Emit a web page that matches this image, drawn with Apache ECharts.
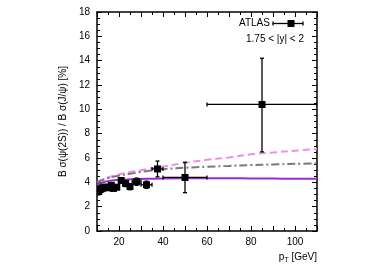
<!DOCTYPE html>
<html><head><meta charset="utf-8">
<script src="https://cdn.jsdelivr.net/npm/echarts@6/dist/echarts.min.js"></script>
<style>html,body{margin:0;padding:0;background:#fff}#c{width:389px;height:273px}</style>
</head><body><div id="c"></div>
<script>
// Data
const pT     = [10.0,10.75,11.25,11.75,12.25,12.75,13.5,14.5,15.5,16.5,17.5,19,21,23,25,28,32.5,37.5,50,85];
const pTlo   = [9.5,10.5,11,11.5,12,12.5,13,14,15,16,17,18,20,22,24,26,30,35,40,60];
const pThi   = [10.5,11,11.5,12,12.5,13,14,15,16,17,18,20,22,24,26,30,35,40,60,110];
const ratio  = [3.2,3.25,3.4,3.45,3.5,3.55,3.6,3.6,3.55,3.75,3.5,3.6,4.15,3.9,3.65,4.05,3.8,5.1,4.4,10.4];
const errDn  = [0.15,0.15,0.15,0.15,0.15,0.15,0.15,0.15,0.15,0.2,0.2,0.2,0.2,0.25,0.25,0.3,0.3,0.65,1.25,3.9];
const errUp  = [0.15,0.15,0.15,0.15,0.15,0.15,0.15,0.15,0.15,0.2,0.2,0.2,0.2,0.25,0.25,0.3,0.3,0.65,1.25,3.8];

const thPt     = [10,12,15,20,25,30,40,50,60,70,80,90,100,110];
const thSolid  = [3.8,3.95,4.1,4.2,4.25,4.28,4.32,4.33,4.33,4.33,4.32,4.31,4.3,4.3];
const thDashDot= [4.0,4.15,4.35,4.55,4.7,4.85,5.08,5.2,5.28,5.35,5.42,5.47,5.52,5.55];
const thDashed = [4.0,4.2,4.4,4.65,4.85,5.0,5.3,5.6,5.85,6.05,6.3,6.45,6.6,6.75];

const xTicks = [20,40,60,80,100];

const font = 'Liberation Sans, Arial, sans-serif';
const chart = echarts.init(document.getElementById('c'), null, {renderer:'canvas'});

function pair(xs, ys){ return xs.map((x,i)=>[x, ys[i]]); }

const axisCommon = {
  axisLine:{show:true, onZero:false, lineStyle:{color:'#000', width:1.5}},
  axisTick:{show:true, inside:true, length:5, lineStyle:{color:'#000', width:1}},
  minorTick:{show:true, splitNumber:4, length:3, lineStyle:{color:'#000', width:1}},
  splitLine:{show:false}
};

chart.setOption({
  animation:false,
  backgroundColor:'#fff',
  grid:{left:97, right:72, top:12, bottom:42},
  xAxis:[
    Object.assign({type:'value', min:10, max:110, interval:10, position:'bottom',
      name:'{a|p}{s|T}{a| [GeV]}', nameLocation:'end', nameGap:0,
      nameTextStyle:{rich:{a:{fontFamily:font,fontSize:10,color:'#000'},s:{fontFamily:font,fontSize:7,color:'#000',verticalAlign:'bottom',padding:[6,0,0,0]}},
        align:'right', verticalAlign:'top', padding:[20,0,0,0]},
      axisLabel:{fontFamily:font, fontSize:10, color:'#000', margin:6,
        formatter:v=> xTicks.indexOf(v)>=0 ? String(v) : ''}}, axisCommon,
      {minorTick:{show:true, splitNumber:2, length:3, lineStyle:{color:'#000'}}}),
    Object.assign({type:'value', min:10, max:110, interval:10, position:'top',
      axisLabel:{show:false}}, axisCommon,
      {minorTick:{show:true, splitNumber:2, length:3, lineStyle:{color:'#000'}}})
  ],
  yAxis:[
    Object.assign({type:'value', min:0, max:18, interval:2, position:'left',
      name:'B σ(ψ(2S)) / B σ(J/ψ) [%]', nameLocation:'middle', nameGap:28,
      nameTextStyle:{fontFamily:font, fontSize:10, color:'#000'},
      axisLabel:{fontFamily:font, fontSize:10, color:'#000', margin:7}}, axisCommon),
    Object.assign({type:'value', min:0, max:18, interval:2, position:'right',
      axisLabel:{show:false}}, axisCommon)
  ],
  series:[
    {type:'line', data:pair(thPt, thDashed), showSymbol:false, smooth:0.4, z:2,
     lineStyle:{color:'#f08cf0', width:2, type:[7,4]}},
    {type:'line', data:pair(thPt, thDashDot), showSymbol:false, smooth:0.4, z:2,
     lineStyle:{color:'#7a7a7a', width:2, type:[8,3,2,3]}},
    {type:'line', data:pair(thPt, thSolid), showSymbol:false, smooth:0.4, z:3,
     lineStyle:{color:'#9a28d6', width:2}},
    {type:'custom', clip:true, z:5,
     data: pT.map((x,i)=>[x, ratio[i], pTlo[i], pThi[i], ratio[i]-errDn[i], ratio[i]+errUp[i]]),
     renderItem:(params, api)=>{
       const c = api.coord([api.value(0), api.value(1)]);
       const xl = api.coord([api.value(2), api.value(1)]);
       const xh = api.coord([api.value(3), api.value(1)]);
       const yl = api.coord([api.value(0), api.value(4)]);
       const yh = api.coord([api.value(0), api.value(5)]);
       const st = {stroke:'#000', lineWidth:1.3};
       const cap = 2;
       return {type:'group', children:[
         {type:'line', shape:{x1:xl[0],y1:c[1],x2:xh[0],y2:c[1]}, style:st},
         {type:'line', shape:{x1:xl[0],y1:c[1]-cap,x2:xl[0],y2:c[1]+cap}, style:st},
         {type:'line', shape:{x1:xh[0],y1:c[1]-cap,x2:xh[0],y2:c[1]+cap}, style:st},
         {type:'line', shape:{x1:c[0],y1:yl[1],x2:c[0],y2:yh[1]}, style:st},
         {type:'line', shape:{x1:c[0]-cap,y1:yl[1],x2:c[0]+cap,y2:yl[1]}, style:st},
         {type:'line', shape:{x1:c[0]-cap,y1:yh[1],x2:c[0]+cap,y2:yh[1]}, style:st},
         {type:'rect', shape:{x:c[0]-3.5,y:c[1]-3.5,width:7,height:7}, style:{fill:'#000'}}
       ]};
     }}
  ],
  graphic:[
    {type:'text', left:239, top:18, style:{text:'ATLAS', font:'10px '+font, fill:'#000'}},
    {type:'line', shape:{x1:273,y1:23.5,x2:303,y2:23.5}, style:{stroke:'#000', lineWidth:1.3}},
    {type:'line', shape:{x1:273,y1:21.5,x2:273,y2:25.5}, style:{stroke:'#000', lineWidth:1.3}},
    {type:'line', shape:{x1:303,y1:21.5,x2:303,y2:25.5}, style:{stroke:'#000', lineWidth:1.3}},
    {type:'rect', shape:{x:287.5,y:20,width:7,height:7}, style:{fill:'#000'}},
    {type:'text', right:85, top:34, style:{text:'1.75 < |y| < 2', font:'10px '+font, fill:'#000', textAlign:'right'}}
  ]
});
</script></body></html>
